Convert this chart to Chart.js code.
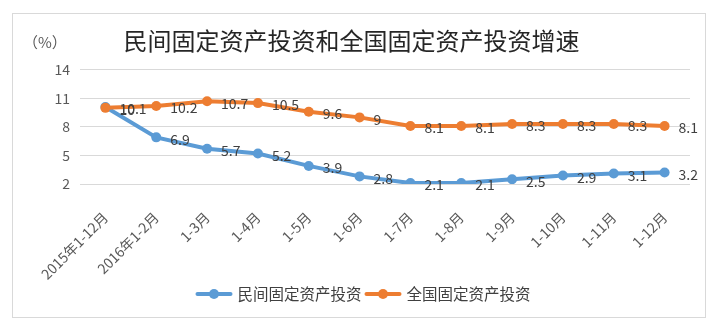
<!DOCTYPE html>
<html>
<head>
<meta charset="utf-8">
<script src="https://cdn.jsdelivr.net/npm/chart.js@4.4.1/dist/chart.umd.min.js"></script>
<style>
    html, body { margin: 0; padding: 0; background: #fff; }
    #box {
        position: absolute; left: 12px; top: 13px;
        width: 692px; height: 303px;
        border: 1px solid #d9d9d9;
    }
    #unit {
        position: absolute; left: 10px; top: 17px;
        font: 15px "Noto Sans CJK SC", sans-serif; color: #595959;
    }
</style>
</head>
<body>
<div id="box">
    <canvas id="trendChart"></canvas>
    <div id="unit">（%）</div>
</div>
<script>
const categories = ['2015年1-12月', '2016年1-2月', '1-3月', '1-4月', '1-5月', '1-6月',
    '1-7月', '1-8月', '1-9月', '1-10月', '1-11月', '1-12月']
const privateInvest = [10.1, 6.9, 5.7, 5.2, 3.9, 2.8, 2.1, 2.1, 2.5, 2.9, 3.1, 3.2]
const nationalInvest = [10.0, 10.2, 10.7, 10.5, 9.6, 9.0, 8.1, 8.1, 8.3, 8.3, 8.3, 8.1]
const yTicks = [2, 5, 8, 11, 14]

const FONT = '"Noto Sans CJK SC", sans-serif'
const BLUE = '#5b9bd5'
const ORANGE = '#ed7d31'

const valueLabels = {
    id: 'valueLabels',
    afterDatasetsDraw(chart)
    {
        const ctx = chart.ctx
        ctx.save()
        ctx.font = '14px ' + FONT
        ctx.fillStyle = '#404040'
        ctx.textAlign = 'left'
        ctx.textBaseline = 'middle'
        chart.data.datasets.forEach((ds, i) => {
            chart.getDatasetMeta(i).data.forEach((pt, j) => {
                ctx.fillText(String(ds.data[j]), pt.x + 14, pt.y + 2)
            })
        })
        ctx.restore()
    }
}

// legend drawn by hand: line + dot, then the name, packed tight like the original
const lineLegend = {
    id: 'lineLegend',
    afterDraw(chart)
    {
        const ctx = chart.ctx
        const sets = chart.data.datasets
        const markW = 37, gapText = 5, gapItem = 3
        ctx.save()
        ctx.font = '15.5px ' + FONT
        ctx.textBaseline = 'middle'
        ctx.textAlign = 'left'
        const widths = sets.map(ds => markW + gapText + ctx.measureText(ds.label).width)
        const total = widths.reduce((a, b) => a + b, 0) + gapItem * (sets.length - 1)
        let x = chart.width / 2 + 4 - total / 2
        const y = chart.height - 23
        sets.forEach((ds, i) => {
            ctx.strokeStyle = ds.borderColor
            ctx.lineWidth = 4
            ctx.lineCap = 'round'
            ctx.beginPath()
            ctx.moveTo(x + 2, y)
            ctx.lineTo(x + markW - 2, y)
            ctx.stroke()
            ctx.fillStyle = ds.borderColor
            ctx.beginPath()
            ctx.arc(x + markW / 2, y, 5, 0, Math.PI * 2)
            ctx.fill()
            ctx.fillStyle = '#404040'
            ctx.fillText(ds.label, x + markW + gapText, y)
            x += widths[i] + gapItem
        })
        ctx.restore()
    }
}

new Chart(document.getElementById('trendChart'), {
    type: 'line',
    data: {
        labels: categories,
        datasets: [{
            label: '民间固定资产投资',
            data: privateInvest,
            borderColor: BLUE,
            backgroundColor: BLUE,
            borderWidth: 4,
            pointRadius: 5,
            pointBorderWidth: 0,
            order: 1,
            fill: false
        }, {
            label: '全国固定资产投资',
            data: nationalInvest,
            borderColor: ORANGE,
            backgroundColor: ORANGE,
            borderWidth: 4,
            pointRadius: 5,
            pointBorderWidth: 0,
            order: 0,
            fill: false
        }]
    },
    options: {
        responsive: true,
        maintainAspectRatio: false,
        animation: false,
        layout: { padding: { left: 0, right: 15, top: 0, bottom: 28 } },
        scales: {
            x: {
                offset: true,
                grid: { display: false },
                border: { display: false },
                ticks: {
                    color: '#595959',
                    font: { family: FONT, size: 14 },
                    minRotation: 45,
                    maxRotation: 45,
                    padding: 17
                },
                afterFit(scale) { scale.height = 105 }
            },
            y: {
                min: 2,
                max: 14,
                afterBuildTicks(scale) { scale.ticks = yTicks.map(v => ({ value: v })) },
                grid: { color: '#d9d9d9', drawTicks: false },
                border: { display: false },
                ticks: {
                    color: '#595959',
                    font: { family: FONT, size: 14 },
                    padding: 10
                },
                afterFit(scale) { scale.width = 67 }
            }
        },
        plugins: {
            title: {
                display: true,
                text: '民间固定资产投资和全国固定资产投资增速',
                color: '#262626',
                font: { family: FONT, size: 24, weight: 'normal' },
                padding: { top: 12, bottom: 15 }
            },
            legend: { display: false },
            tooltip: { enabled: false }
        }
    },
    plugins: [valueLabels, lineLegend]
})
</script>
</body>
</html>
